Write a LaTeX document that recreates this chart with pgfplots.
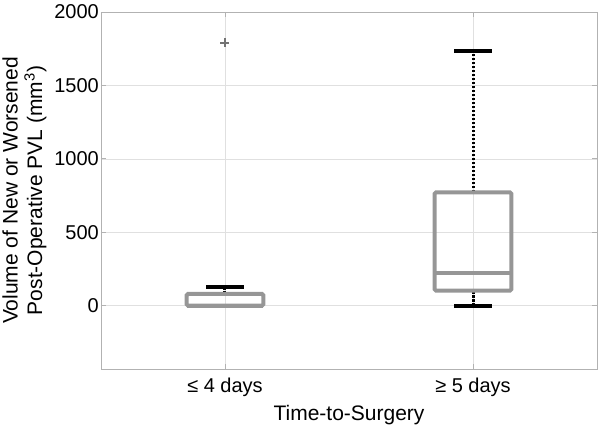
\documentclass[border=0pt]{standalone}
\usepackage{pgfplots}
\pgfplotsset{compat=1.18}
\usepackage{fontspec}
\setmainfont{Liberation Sans}
\definecolor{boxgray}{RGB}{150,150,150}
\definecolor{outgray}{RGB}{115,115,115}
\begin{document}
\fontsize{20bp}{24.5bp}\selectfont
\begin{tikzpicture}
\begin{axis}[
  scale only axis, width=496bp, height=357bp,
  xmin=0.5, xmax=2.5, ymin=-431, ymax=2000,
  xtick={1,2}, xticklabels={≤ 4 days, ≥ 5 days},
  ytick={0,500,1000,1500,2000},
  /pgf/number format/assume math mode=true,
  scaled y ticks=false,
  yticklabel style={/pgf/number format/1000 sep={}, inner sep=2bp},
  xticklabel style={yshift=-2bp},
  every tick label/.append style={font=\fontsize{20bp}{24bp}\selectfont},
  label style={font=\fontsize{21bp}{24.5bp}\selectfont},
  grid=major, major grid style={color=black!12, line width=0.5bp},
  axis line style={color=black!30, line width=0.8bp},
  tick style={color=black!30, line width=0.8bp},
  major tick length=5bp, tick align=inside,
  xlabel={Time-to-Surgery},
  xlabel style={yshift=5bp},
  ylabel={Volume of New or Worsened\\Post-Operative PVL (mm\textsuperscript{3})},
  ylabel style={align=center, yshift=-1bp},
  clip=false,
]
% group 1 (<= 4 days)
\addplot[black, line width=3bp, dash pattern=on 2.5bp off 1.5bp] coordinates {(1,80) (1,130)};
\addplot[black, line width=4bp] coordinates {(0.925,130) (1.075,130)};
\addplot[boxgray, line width=4bp, rounded corners=1.5bp] coordinates {(0.845,0) (1.155,0) (1.155,80) (0.845,80) (0.845,0)} -- cycle;
\addplot[boxgray, line width=4bp] coordinates {(0.845,0) (1.155,0)};
\addplot[only marks, mark=+, mark size=4.5bp, outgray, line width=2bp] coordinates {(1,1789)};
% group 2 (>= 5 days)
\addplot[black, line width=3bp, dash pattern=on 2.5bp off 1.5bp] coordinates {(2,772) (2,1732)};
\addplot[black, line width=3bp, dash pattern=on 2.5bp off 1.5bp] coordinates {(2,0) (2,102)};
\addplot[black, line width=4bp] coordinates {(1.925,1732) (2.075,1732)};
\addplot[black, line width=4bp] coordinates {(1.925,0) (2.075,0)};
\addplot[boxgray, line width=4bp, rounded corners=1.5bp] coordinates {(1.845,102) (2.155,102) (2.155,772) (1.845,772) (1.845,102)} -- cycle;
\addplot[boxgray, line width=4bp] coordinates {(1.845,220) (2.155,220)};
\end{axis}
\pgfresetboundingbox
\path ([xshift=-101bp,yshift=-60bp]current axis.south west) rectangle ([xshift=5bp,yshift=12bp]current axis.north east);
\end{tikzpicture}
\end{document}
